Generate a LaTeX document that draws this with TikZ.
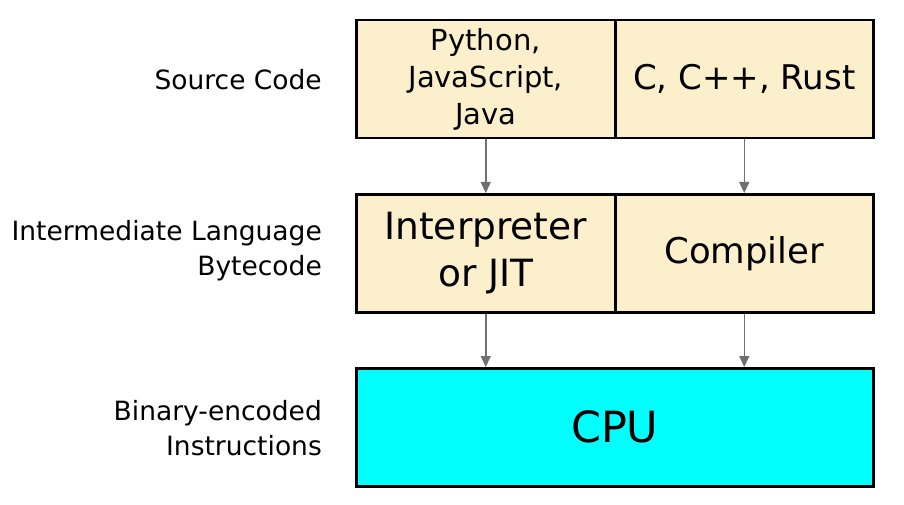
\documentclass[tikz,border=0pt]{standalone}
\usepackage{fontspec}
\setmainfont{DejaVu Sans}
\usetikzlibrary{arrows.meta}
\definecolor{boxfill}{HTML}{FCEFCB}
\definecolor{cpufill}{HTML}{00FFFF}
\definecolor{arrowgray}{HTML}{707070}
\begin{document}
\begin{tikzpicture}[x=1pt,y=-1pt,
  cell/.style={draw=black, line width=2.5pt, fill=boxfill, rectangle, minimum height=118pt, inner sep=0pt, align=center, anchor=north west},
  lbl/.style={anchor=east, align=right, inner sep=0pt, font=\fontsize{26.5}{35}\selectfont},
  flow/.style={draw=arrowgray, line width=1.5pt, -{Triangle[length=11pt,width=10pt]}}]
\useasboundingbox (0,0) rectangle (904,505);
\node[cell, minimum width=259pt, font=\fontsize{29}{37}\selectfont] (py) at (355,19) {Python,\\JavaScript,\\Java};
\node[cell, minimum width=258pt, font=\fontsize{34}{40}\selectfont] (c) at (614,19) {C, C++, Rust};
\node[cell, minimum width=259pt, font=\fontsize{37.5}{47}\selectfont] (interp) at (355,193) {Interpreter\\or JIT};
\node[cell, minimum width=258pt, font=\fontsize{35.5}{47}\selectfont] (comp) at (614,193) {Compiler};
\node[cell, fill=cpufill, minimum width=517pt, font=\fontsize{43}{50}\selectfont] (cpu) at (355,367) {CPU};
\draw[flow] (py.south) -- (interp.north);
\draw[flow] (c.south) -- (comp.north);
\draw[flow] (interp.south) -- (interp.south |- cpu.north);
\draw[flow] (comp.south) -- (comp.south |- cpu.north);
\node[lbl] (src) at (322,80) {Source Code};
\node[lbl] (il) at (322,251) {Intermediate Language\\Bytecode};
\node[lbl] (bin) at (322,428) {Binary-encoded\\Instructions};
\end{tikzpicture}
\end{document}
